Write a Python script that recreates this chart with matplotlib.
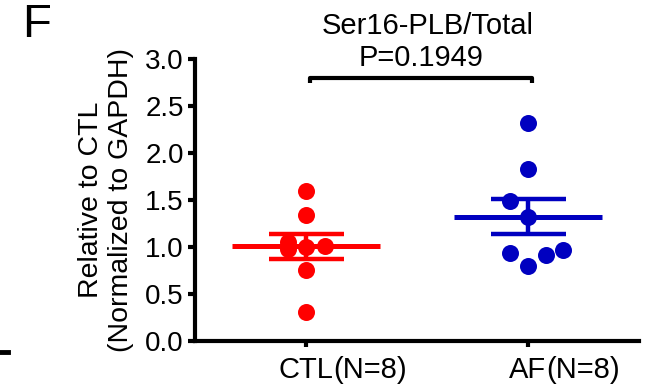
import matplotlib
matplotlib.use('Agg')
import matplotlib.pyplot as plt
from matplotlib.lines import Line2D
import numpy as np

plt.rcParams['font.family'] = ['Liberation Sans', 'DejaVu Sans']

groups = ['CTL', 'AF']
group_n = ['(N=8)', '(N=8)']
colors = ['#FF0000', '#0000C0']

# Ser16-PLB / total PLB, relative to CTL
ctl = [1.60, 1.34, 1.05, 0.98, 1.00, 1.01, 0.76, 0.31]
af = [2.32, 1.83, 1.49, 1.32, 0.94, 0.80, 0.91, 0.97]
# horizontal scatter offsets so the dots don't hide each other
ctl_jit = [0, 0, -0.08, -0.08, 0, 0.085, 0, 0]
af_jit = [0, 0, -0.08, 0, -0.08, 0, 0.08, 0.16]
p_value = 0.1949

fig = plt.figure(figsize=(6.64, 3.9), dpi=100)
ax = fig.add_axes([0.2937, 0.1256, 0.6686, 0.7231])

for i, (vals, jit, c) in enumerate([(ctl, ctl_jit, colors[0]), (af, af_jit, colors[1])]):
    vals = np.array(vals)
    m = vals.mean()
    sem = vals.std(ddof=1) / np.sqrt(len(vals))
    ax.scatter(i + np.array(jit), vals, s=150, color=c, zorder=3, linewidths=0)
    ax.hlines(m, i - 0.333, i + 0.333, color=c, lw=3.6, zorder=4)
    ax.errorbar(i, m, yerr=sem, color=c, capsize=27, capthick=3.2, elinewidth=3.2,
                fmt='none', zorder=4)

ax.set_xlim(-0.5, 1.5)
ax.set_ylim(0, 3.0)
ax.set_yticks(np.arange(0, 3.01, 0.5))
ax.set_yticklabels([f'{v:.1f}' for v in np.arange(0, 3.01, 0.5)])
ax.set_xticks([0, 1])
ax.set_xticklabels([])

# group name centred under the tick, sample size trailing to the right
for i, (g, n) in enumerate(zip(groups, group_n)):
    t = ax.annotate(g, xy=(i, 0), xycoords=ax.get_xaxis_transform(),
                    xytext=(0, -11), textcoords='offset points',
                    ha='center', va='top', fontsize=21, annotation_clip=False)
    ax.annotate(n, xy=(1, 0), xycoords=t, ha='left', va='bottom', fontsize=21)

for s in ['top', 'right']:
    ax.spines[s].set_visible(False)
for s in ['left', 'bottom']:
    ax.spines[s].set_linewidth(3)
ax.tick_params(axis='y', width=3, length=5, labelsize=20, pad=3)
ax.tick_params(axis='x', width=3, length=4)

ax.set_ylabel('Relative to CTL\n(Normalized to GAPDH)', fontsize=20.5, labelpad=8,
              linespacing=1.2)

# significance bracket
ax.plot([0.02, 0.02, 1.02, 1.02], [2.74, 2.80, 2.80, 2.74], color='black', lw=3,
        clip_on=False, solid_capstyle='butt')
ax.text(0.52, 3.01, f'P={p_value}', ha='center', va='center', fontsize=21)
ax.text(0.55, 3.35, 'Ser16-PLB/Total', ha='center', va='center', fontsize=21)

fig.text(0.033, 0.935, 'F', fontsize=34, ha='left', va='center')
fig.add_artist(Line2D([0, 0.012], [0.097, 0.097], color='black', lw=3.5))

fig.savefig('out.png', dpi=100)
